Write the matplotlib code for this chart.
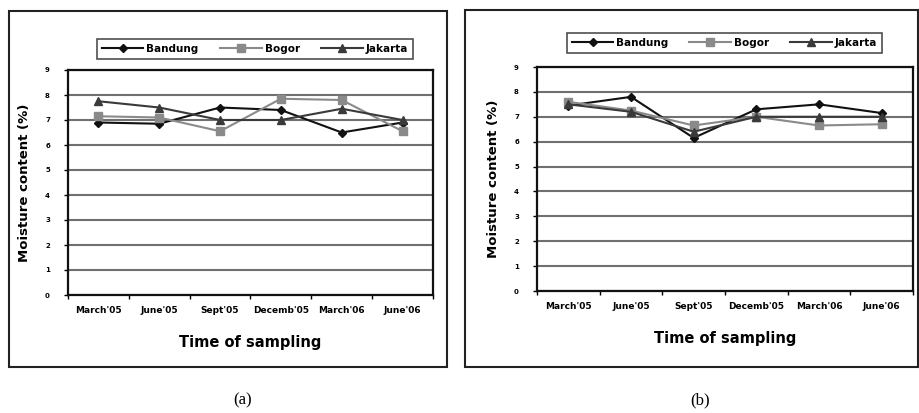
import numpy as np
import matplotlib.pyplot as plt
from matplotlib.patches import Rectangle

# sampling times and moisture content (%)
times = ["March'05", "June'05", "Sept'05", "Decemb'05", "March'06", "June'06"]
series = ["Bandung", "Bogor", "Jakarta"]

bandung_a = [6.9, 6.85, 7.5, 7.4, 6.5, 6.9]
bogor_a = [7.15, 7.1, 6.55, 7.85, 7.8, 6.55]
jakarta_a = [7.75, 7.5, 7.0, 7.0, 7.45, 7.0]

bandung_b = [7.45, 7.8, 6.15, 7.3, 7.5, 7.15]
bogor_b = [7.6, 7.25, 6.65, 7.0, 6.65, 6.7]
jakarta_b = [7.5, 7.2, 6.4, 7.0, 7.0, 7.0]

colors = ["#111111", "#8a8a8a", "#3a3a3a"]
markers = ["D", "s", "^"]
msizes = [4, 6, 6]

W, H = 919, 413
fig = plt.figure(figsize=(W / 100, H / 100), dpi=100)


def px(x0, y0, x1, y1):
    # pixel box -> figure fraction rect
    return [x0 / W, 1 - y1 / H, (x1 - x0) / W, (y1 - y0) / H]


def panel(axbox, legbox, frame, tag, tagx, data):
    # outer frame
    f = px(*frame)
    fig.patches.append(Rectangle((f[0], f[1]), f[2], f[3], transform=fig.transFigure,
                                 fill=False, edgecolor="#222222", linewidth=1.5))
    ax = fig.add_axes(px(*axbox))
    x = np.arange(len(times))
    handles = []
    for vals, name, c, m, ms in zip(data, series, colors, markers, msizes):
        h, = ax.plot(x, vals, color=c, marker=m, markersize=ms, linewidth=1.5,
                     label=name, zorder=3)
        handles.append(h)
    ax.set_xlim(-0.5, len(times) - 0.5)
    ax.set_ylim(0, 9)
    ax.set_yticks(range(0, 10))
    ax.set_yticklabels([str(v) for v in range(0, 10)], fontsize=5, fontweight="bold")
    ax.set_xticks(np.arange(-0.5, len(times)), minor=False)
    ax.set_xticklabels([])
    ax.set_xticks(x, minor=True)
    ax.set_xticklabels(times, minor=True, fontsize=6.5, fontweight="bold")
    ax.tick_params(axis="x", which="minor", length=0, pad=8)
    ax.tick_params(axis="x", which="major", length=3, width=1, direction="out")
    ax.tick_params(axis="y", length=3, width=1, pad=10)
    ax.grid(axis="y", color="#707070", linewidth=1.5)
    ax.set_axisbelow(True)
    for s in ax.spines.values():
        s.set_linewidth(1.6)
        s.set_color("#111111")
    ax.set_ylabel("Moisture content (%)", fontsize=9.5, fontweight="bold", labelpad=10)
    ax.set_xlabel("Time of sampling", fontsize=10.5, fontweight="bold", labelpad=14)

    lb = px(*legbox)
    lax = fig.add_axes(lb)
    lax.axis("off")
    leg = lax.legend(handles=handles, loc="center", ncol=3, frameon=True,
                     bbox_to_anchor=(0, 0, 1, 1), mode="expand",
                     prop={"size": 7.5, "weight": "bold"}, handlelength=4,
                     handletextpad=0.3, borderpad=0.45, borderaxespad=0,
                     fancybox=False)
    leg.get_frame().set_edgecolor("#222222")
    leg.get_frame().set_linewidth(1.2)

    fig.text(tagx / W, 1 - 400 / H, tag, fontsize=12, family="Liberation Serif",
             ha="center", va="center")


panel((68, 70, 433, 295), (97, 37, 413, 61), (9, 11, 447, 367), "(a)", 243,
      [bandung_a, bogor_a, jakarta_a])
panel((537, 67, 913, 291), (567, 31, 882, 55), (465, 10, 918, 367), "(b)", 700,
      [bandung_b, bogor_b, jakarta_b])

fig.savefig("out.png", dpi=100)
